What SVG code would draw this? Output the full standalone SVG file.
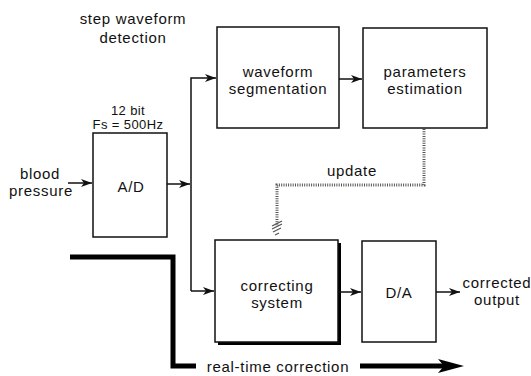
<svg xmlns="http://www.w3.org/2000/svg" width="531" height="376" viewBox="0 0 531 376">
<defs>
<style>
text{font-family:"Liberation Sans",Arial,sans-serif;font-size:15px;fill:#111;letter-spacing:0.7px}
.s{font-size:13px;letter-spacing:0.4px}
.box{fill:#fff;stroke:#111;stroke-width:1.5}
.ln{fill:none;stroke:#111;stroke-width:1.5}
.hatch{fill:none;stroke:#555;stroke-width:3;stroke-dasharray:1 1.3}
.thick{fill:none;stroke:#000;stroke-width:5}
</style>
<marker id="ah" markerWidth="12" markerHeight="10" refX="11" refY="5" orient="auto" markerUnits="userSpaceOnUse">
<path d="M0,1 L11,5 L0,9 L3,5 Z" fill="#111"/>
</marker>
</defs>
<g id="labels">
<text x="133" y="24" text-anchor="middle">step waveform</text>
<text x="133" y="43" text-anchor="middle">detection</text>
<text class="s" x="128" y="115" text-anchor="middle">12 bit</text>
<text class="s" x="128" y="129" text-anchor="middle">Fs = 500Hz</text>
<text x="40" y="179" text-anchor="middle">blood</text>
<text x="41" y="196" text-anchor="middle">pressure</text>
<text x="352" y="176" text-anchor="middle">update</text>
<text x="497" y="288" text-anchor="middle">corrected</text>
<text x="497" y="305" text-anchor="middle">output</text>
<text x="278" y="372" text-anchor="middle">real-time correction</text>
</g>
<g id="ad">
<rect class="box" x="93" y="133" width="74" height="104"/>
<text x="131" y="192" text-anchor="middle">A/D</text>
</g>
<g id="segmentation">
<rect class="box" x="217" y="27" width="122" height="101"/>
<text x="278" y="77" text-anchor="middle">waveform</text>
<text x="278" y="94" text-anchor="middle">segmentation</text>
</g>
<g id="estimation">
<rect class="box" x="363" y="28" width="124" height="100"/>
<text x="425" y="77" text-anchor="middle">parameters</text>
<text x="425" y="94" text-anchor="middle">estimation</text>
</g>
<g id="correcting">
<rect x="218" y="243" width="123" height="102" fill="#000"/>
<rect class="box" x="215" y="240" width="123" height="102"/>
<text x="277" y="291" text-anchor="middle">correcting</text>
<text x="277" y="308" text-anchor="middle">system</text>
</g>
<g id="da">
<rect class="box" x="362" y="241" width="74" height="101"/>
<text x="399" y="298" text-anchor="middle">D/A</text>
</g>
<g id="connectors">
<line class="ln" x1="68" y1="183" x2="92" y2="183" marker-end="url(#ah)"/>
<line class="ln" x1="167" y1="184" x2="190" y2="184" marker-end="url(#ah)"/>
<polyline class="ln" points="191,291 191,78 216,78" marker-end="url(#ah)"/>
<line class="ln" x1="191" y1="291" x2="214" y2="291" marker-end="url(#ah)"/>
<line class="ln" x1="339" y1="79" x2="362" y2="79" marker-end="url(#ah)"/>
<line class="ln" x1="338" y1="292" x2="361" y2="292" marker-end="url(#ah)"/>
<line class="ln" x1="436" y1="292" x2="460" y2="292" marker-end="url(#ah)"/>
<polyline class="hatch" points="424,129 424,185 277,185 277,226"/>
<path d="M272,226 L282,221 M272,229 L282,224 M273,232 L281,228 M275,235 L279,233" stroke="#555" stroke-width="1.2" fill="none"/>
<polyline class="thick" points="70,257 173,257 173,366 196,366"/>
<line x1="360" y1="366" x2="445" y2="366" stroke="#000" stroke-width="5"/>
<path d="M438,359 L464,366 L438,373 L444,366 Z" fill="#000"/>
</g>
</svg>
